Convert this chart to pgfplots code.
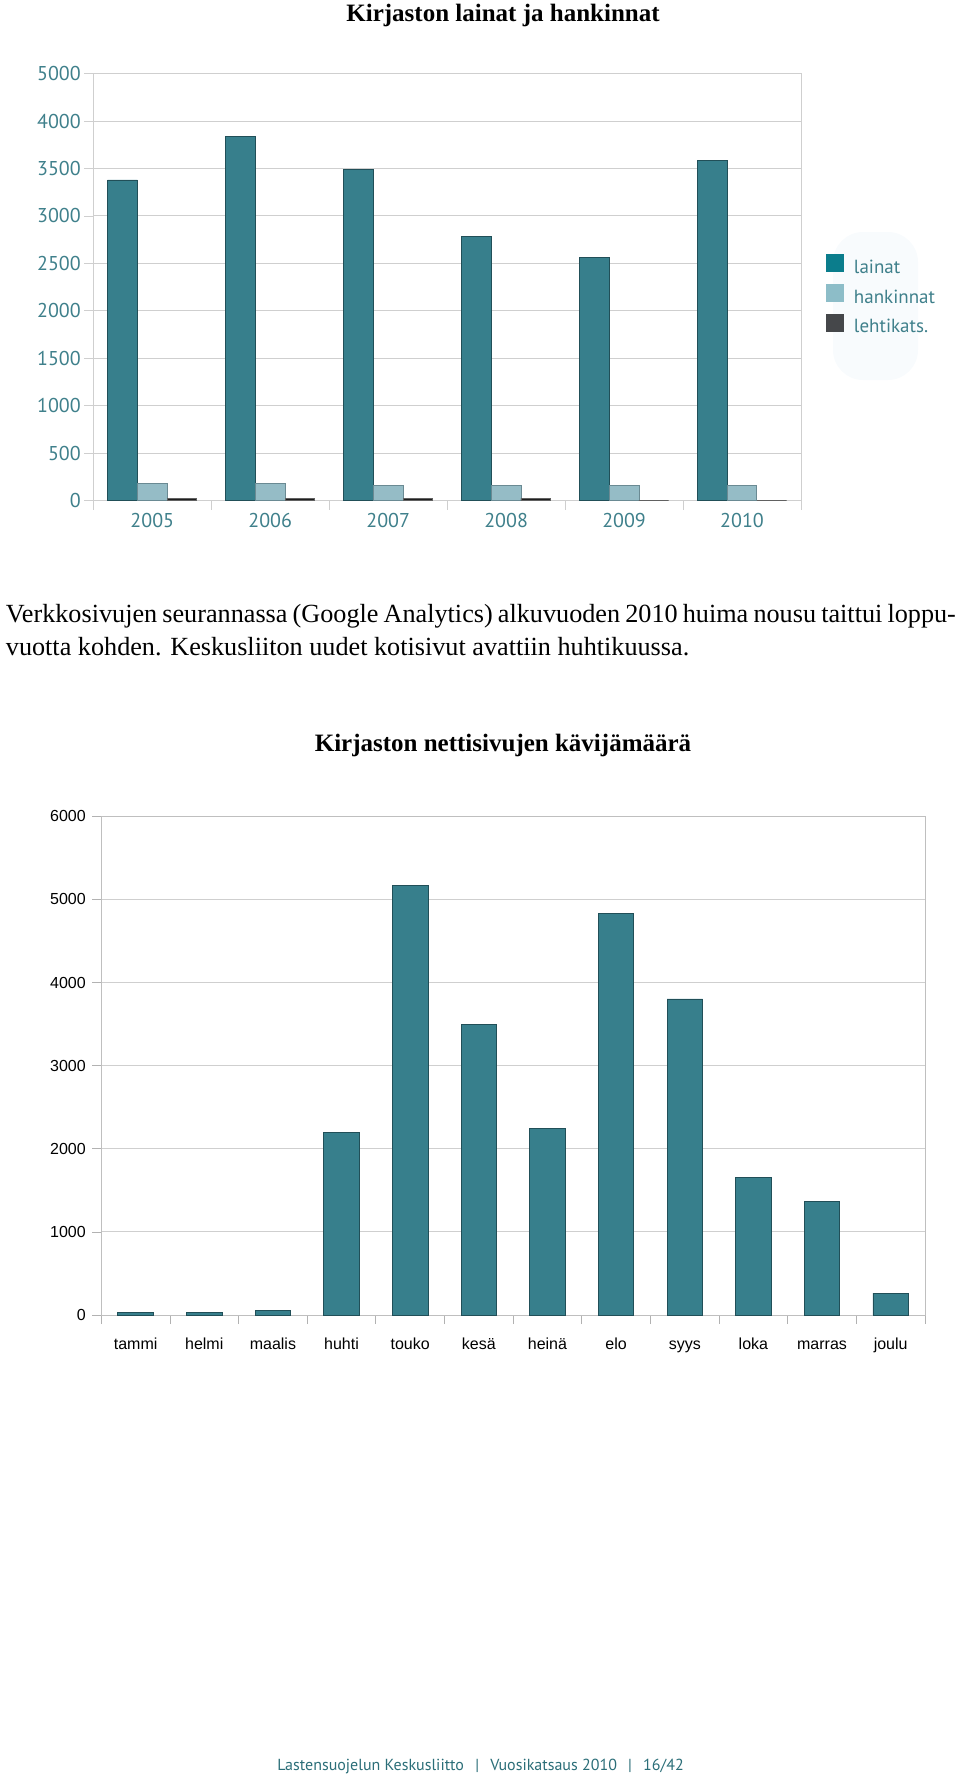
\documentclass[border=0pt]{standalone}
\usepackage{fontspec}
\setmainfont{Liberation Serif}
\newfontfamily\ptsans{PT Sans}
\newfontfamily\libsans{Liberation Sans}
\usepackage{pgfplots}
\pgfplotsset{compat=1.18}
\definecolor{teal1}{HTML}{377F8C}
\definecolor{tealedge}{HTML}{214F58}
\definecolor{hank}{HTML}{95BCC6}
\definecolor{hankedge}{HTML}{6A8A93}
\definecolor{leht}{HTML}{1E1E1E}
\definecolor{lbl}{HTML}{3F808B}
\definecolor{legteal}{HTML}{0B7D8C}
\definecolor{leghank}{HTML}{8DBDC8}
\definecolor{legdark}{HTML}{45474A}
\definecolor{foot}{HTML}{2B6E78}
\definecolor{gridc}{HTML}{CFCFCF}
\definecolor{blob}{HTML}{F8FBFD}
\begin{document}
\begin{tikzpicture}
\path[use as bounding box] (0,0) rectangle (960pt,-1777pt);
% ---------- chart 1 ----------
\node[anchor=base, font=\fontsize{25}{28}\selectfont\bfseries] at (503pt,-21.5pt) {Kirjaston lainat ja hankinnat};
\fill[blob, rounded corners=30pt] (833pt,-232pt) rectangle (918pt,-380pt);
\begin{axis}[
  at={(93.3pt,-500.5pt)}, anchor=south west,
  scale only axis, width=707.7pt, height=426.8pt,
  xmin=-0.5, xmax=5.5, ymin=0, ymax=4500,
  ybar=0pt, bar width=29.7pt,
  xtick={-0.5,0.5,...,5.5}, xticklabels={},
  extra x ticks={0,1,2,3,4,5},
  extra x tick labels={2005,2006,2007,2008,2009,2010},
  extra x tick style={major tick length=0pt},
  xticklabel style={anchor=base, yshift=-26.5pt, font=\ptsans\fontsize{20}{20}\selectfont, text=lbl},
  ytick={0,500,...,4500},
  yticklabels={0,500,1000,1500,2000,2500,3000,3500,4000,5000},
  yticklabel style={anchor=east, font=\ptsans\fontsize{20}{20}\selectfont, text=lbl},
  xtick pos=lower, ytick pos=left,
  tick align=outside, major tick length=9pt,
  tick style={gridc, line width=0.8pt},
  ymajorgrids, major grid style={gridc, line width=1pt},
  axis line style={gridc, line width=1pt},
  /pgf/number format/assume math mode=true,
  legend style={at={(1.0353,0.5769)}, anchor=north west, draw=none, fill=none,
    inner sep=0pt, row sep=6.4pt, font=\ptsans\fontsize{19}{19}\selectfont, text=lbl,
    nodes={inner sep=0pt, text height=12.5pt, text depth=4.5pt}},
  legend cell align=left,
]
\addplot[fill=teal1, draw=tealedge, line width=0.8pt,
  legend image code/.code={\fill[legteal] (0pt,-2.5pt) rectangle (17pt,14.5pt);}]
  coordinates {(0,3380) (1,3835) (2,3490) (3,2786) (4,2560) (5,3587)};
\addlegendentry{\hspace{10pt}lainat}
\addplot[fill=hank, draw=hankedge, line width=0.8pt,
  legend image code/.code={\fill[leghank] (0pt,-2.5pt) rectangle (17pt,14.5pt);}]
  coordinates {(0,184) (1,184) (2,162) (3,162) (4,162) (5,162)};
\addlegendentry{\hspace{10pt}hankinnat}
\addplot[fill=leht, draw=leht!70, line width=0.8pt,
  legend image code/.code={\fill[legdark] (0pt,-2.5pt) rectangle (17pt,14.5pt);}]
  coordinates {(0,22) (1,22) (2,22) (3,22) (4,0) (5,0)};
\addlegendentry{\hspace{10pt}lehtikats.}
\end{axis}
% ---------- paragraph ----------
\node[anchor=base west, inner sep=0pt, font=\fontsize{26.2}{29}\selectfont] at (5.7pt,-622pt)
  {\makebox[950pt][s]{Verkkosivujen seurannassa (Google Analytics) alkuvuoden 2010 huima nousu taittui loppu-}};
\node[anchor=base west, inner sep=0pt, font=\fontsize{26.2}{29}\selectfont] at (5.7pt,-655pt)
  {vuotta kohden. Keskusliiton uudet kotisivut avattiin huhtikuussa.};
% ---------- chart 2 ----------
\node[anchor=base, font=\fontsize{25}{28}\selectfont\bfseries] at (503pt,-751.5pt) {Kirjaston nettisivujen kävijämäärä};
\begin{axis}[
  at={(101.3pt,-1315pt)}, anchor=south west,
  scale only axis, width=823.7pt, height=498.7pt,
  xmin=-0.5, xmax=11.5, ymin=0, ymax=6000,
  ybar, bar width=35.5pt,
  xtick={-0.5,0.5,...,11.5}, xticklabels={},
  extra x ticks={0,1,...,11},
  extra x tick labels={tammi,helmi,maalis,huhti,touko,kesä,heinä,elo,syys,loka,marras,joulu},
  extra x tick style={major tick length=0pt},
  xticklabel style={anchor=base, yshift=-34pt, font=\libsans\fontsize{16}{16}\selectfont},
  ytick={0,1000,...,6000},
  scaled y ticks=false,
  /pgf/number format/1000 sep={},
  /pgf/number format/assume math mode=true,
  yticklabel style={anchor=east, xshift=-3pt, font=\libsans\fontsize{16}{16}\selectfont},
  xtick pos=lower, ytick pos=left,
  tick align=outside, major tick length=9pt,
  tick style={gray!60, line width=0.8pt},
  ymajorgrids, major grid style={gridc, line width=1pt},
  axis line style={gray!50, line width=1pt},
]
\addplot[fill=teal1, draw=tealedge, line width=0.8pt] coordinates {(0,30) (1,30) (2,50) (3,2200) (4,5170) (5,3495) (6,2247) (7,4834) (8,3803) (9,1653) (10,1367) (11,262)};
\end{axis}
% ---------- footer ----------
\node[anchor=base, font=\ptsans\fontsize{16}{16}\selectfont, text=foot] at (480.5pt,-1770pt)
  {Lastensuojelun Keskusliitto\hspace{0.7em}|\hspace{0.7em}Vuosikatsaus 2010\hspace{0.7em}|\hspace{0.7em}16/42};
\end{tikzpicture}
\end{document}
